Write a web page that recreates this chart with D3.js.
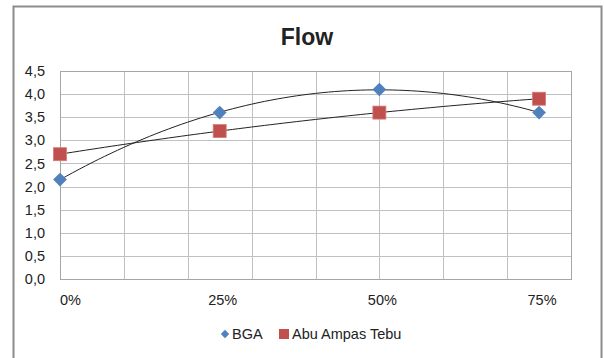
<!DOCTYPE html>
<html>
<head>
<meta charset="utf-8">
<script src="https://d3js.org/d3.v7.min.js"></script>
<style>
  body { margin: 0; background: #fff; }
  text { font-family: "Liberation Sans", Arial, sans-serif; fill: #222; }
  .grid line { stroke: #c0c0c0; stroke-width: 1; }
  .trend { fill: none; stroke: #222; stroke-width: 1; }
</style>
</head>
<body>
<svg id="chart" width="604" height="358"></svg>
<script>
// data
const dosage = [0, 25, 50, 75];            // % of additive
const bga = [2.15, 3.6, 4.1, 3.6];
const abuAmpasTebu = [2.7, 3.2, 3.6, 3.9];
const xTickLabels = ["0%", "25%", "50%", "75%"];
const yTicks = [0, 0.5, 1, 1.5, 2, 2.5, 3, 3.5, 4, 4.5];

const svg = d3.select("#chart");
const margin = { top: 71, right: 33, bottom: 79, left: 60 };
const width = 604, height = 358;

// outer chart frame
svg.append("rect")
  .attr("x", 13.5).attr("y", 6.5)
  .attr("width", 588).attr("height", 360)
  .attr("fill", "#fff").attr("stroke", "#8c8c8c").attr("stroke-width", 2);

const x = d3.scaleLinear().domain([0, 80]).range([margin.left, width - margin.right]);
const y = d3.scaleLinear().domain([0, 4.5]).range([height - margin.bottom, margin.top]);

// grid
const grid = svg.append("g").attr("class", "grid");
grid.selectAll("line.h").data(yTicks).join("line")
  .attr("class", "h")
  .attr("x1", x(0)).attr("x2", x(80))
  .attr("y1", d => Math.round(y(d)) + 0.5).attr("y2", d => Math.round(y(d)) + 0.5);
grid.selectAll("line.v").data(d3.range(0, 81, 10)).join("line")
  .attr("class", "v")
  .attr("y1", y(0)).attr("y2", y(4.5))
  .attr("x1", d => Math.round(x(d)) + 0.5).attr("x2", d => Math.round(x(d)) + 0.5);

// axis frame
svg.append("rect")
  .attr("x", Math.round(x(0)) + 0.5).attr("y", Math.round(y(4.5)) + 0.5)
  .attr("width", Math.round(x(80)) - Math.round(x(0)))
  .attr("height", Math.round(y(0)) - Math.round(y(4.5)))
  .attr("fill", "none").attr("stroke", "#a6a6a6");

// y labels
const fmt = d => d3.format(".1f")(d).replace(".", ",");
svg.append("g").selectAll("text").data(yTicks).join("text")
  .attr("x", 45).attr("y", d => y(d))
  .attr("dy", "0.35em").attr("text-anchor", "end")
  .attr("font-size", 14.5)
  .text(fmt);

// x labels
svg.append("g").selectAll("text").data(dosage).join("text")
  .attr("x", (d, i) => i === 0 ? x(d) : x(d) + 3)
  .attr("y", 300)
  .attr("dy", "0.35em")
  .attr("text-anchor", (d, i) => i === 0 ? "start" : "middle")
  .attr("font-size", 14.5)
  .text((d, i) => xTickLabels[i]);

// polynomial (order 2) trendline, least squares
function quadFit(xs, ys) {
  let s = [0, 0, 0, 0, 0], t = [0, 0, 0];
  xs.forEach((xv, i) => {
    for (let k = 0; k < 5; k++) s[k] += Math.pow(xv, k);
    for (let k = 0; k < 3; k++) t[k] += ys[i] * Math.pow(xv, k);
  });
  const A = [[s[0], s[1], s[2], t[0]], [s[1], s[2], s[3], t[1]], [s[2], s[3], s[4], t[2]]];
  for (let i = 0; i < 3; i++) {
    for (let j = i + 1; j < 3; j++) {
      const f = A[j][i] / A[i][i];
      for (let k = i; k < 4; k++) A[j][k] -= f * A[i][k];
    }
  }
  const c = [0, 0, 0];
  for (let i = 2; i >= 0; i--) {
    let v = A[i][3];
    for (let k = i + 1; k < 3; k++) v -= A[i][k] * c[k];
    c[i] = v / A[i][i];
  }
  return xv => c[0] + c[1] * xv + c[2] * xv * xv;
}

const line = d3.line().x(d => x(d[0])).y(d => y(d[1]));
[bga, abuAmpasTebu].forEach(vals => {
  const f = quadFit(dosage, vals);
  const pts = d3.range(0, 75.01, 1).map(v => [v, f(v)]);
  svg.append("path").attr("class", "trend").attr("d", line(pts));
});

// markers
const diamond = d3.symbol().type(d3.symbolDiamond2).size(120);
svg.append("g").selectAll("path").data(bga).join("path")
  .attr("d", diamond)
  .attr("transform", (d, i) => `translate(${x(dosage[i])},${y(d)})`)
  .attr("fill", "#4f81bd");

svg.append("g").selectAll("rect").data(abuAmpasTebu).join("rect")
  .attr("x", (d, i) => x(dosage[i]) - 6.5)
  .attr("y", d => y(d) - 6.5)
  .attr("width", 13).attr("height", 13)
  .attr("fill", "#c0504d").attr("stroke", "#d77b78").attr("stroke-width", 0.8);

// title
svg.append("text")
  .attr("x", 307).attr("y", 45)
  .attr("text-anchor", "middle")
  .attr("font-size", 23).attr("font-weight", "bold")
  .text("Flow");

// legend
const lg = svg.append("g").attr("transform", "translate(0,334)");
lg.append("path")
  .attr("d", d3.symbol().type(d3.symbolDiamond2).size(45))
  .attr("transform", "translate(225,0)")
  .attr("fill", "#4f81bd");
lg.append("text").attr("x", 232).attr("dy", "0.35em").attr("font-size", 14.5).text("BGA");
lg.append("rect").attr("x", 279).attr("y", -5).attr("width", 10).attr("height", 10).attr("fill", "#c0504d");
lg.append("text").attr("x", 292).attr("dy", "0.35em").attr("font-size", 14.5).text("Abu Ampas Tebu");
</script>
</body>
</html>
